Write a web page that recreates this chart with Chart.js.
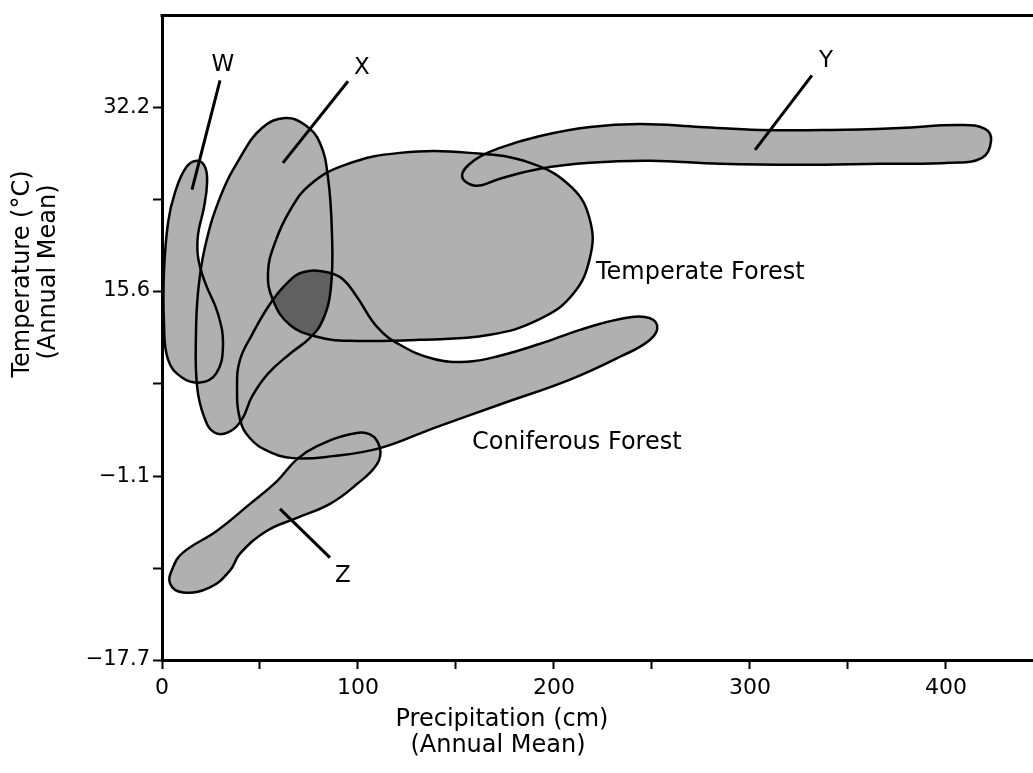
<!DOCTYPE html>
<html><head><meta charset="utf-8">
<script src="https://cdn.jsdelivr.net/npm/chart.js@4.4.1/dist/chart.umd.min.js"></script>
<style>html,body{margin:0;padding:0;background:#fff;overflow:hidden}canvas{display:block}</style>
</head><body>
<canvas id="c" width="1033" height="773"></canvas>
<script>
// ---------------- data ----------------
const xTicks = [0, 50, 100, 150, 200, 250, 300, 350, 400];
const xTickLabels = ['0', '', '100', '', '200', '', '300', '', '400'];
const yTicks = [-17.7, -9.4, -1.1, 7.25, 15.6, 23.9, 32.2];
const yTickLabels = ['\u221217.7', '', '\u22121.1', '', '15.6', '', '32.2'];

// outlines of the climate regions: [precipitation cm, temperature °C]
const biomeW = [[17.9,27.35],[21.9,26.82],[23.0,25.38],[21.4,23.14],[18.4,20.71],[18.4,18.65],[21.9,16.40],[28.6,13.53],[31.1,10.57],[27.6,8.15],[19.4,7.34],[10.2,7.79],[3.1,9.40],[1.0,12.81],[1.0,17.30],[3.1,21.79],[6.6,24.48],[12.2,26.73]];
const biomeX = [[62.8,31.21],[73.0,30.58],[80.6,28.97],[84.7,25.83],[86.7,20.89],[86.2,15.96],[82.1,13.0],[75.5,11.38],[65.3,9.94],[54.1,8.15],[45.9,6.08],[40.8,4.02],[33.7,2.85],[26.5,2.85],[21.4,4.29],[17.9,6.98],[17.3,11.47],[18.4,15.51],[21.9,19.55],[29.6,24.03],[39.8,27.62],[51.0,30.32]];
const temperateForest = [[121.4,28.07],[157.1,28.07],[187.8,27.17],[209.2,24.93],[218.4,21.97],[218.4,18.65],[209.7,15.33],[192.9,13.08],[167.3,11.65],[131.6,11.20],[95.9,11.11],[79.1,11.47],[65.3,12.54],[56.6,14.79],[54.1,17.30],[57.7,19.99],[65.3,22.87],[75.5,25.20],[93.4,26.99]];
const coniferousForest = [[71.9,17.30],[84.2,17.30],[92.3,16.67],[99.5,15.06],[109.7,12.37],[121.4,10.75],[138.3,9.49],[155.6,9.22],[172.4,9.76],[192.9,10.84],[213.3,12.10],[233.7,13.08],[246.4,13.26],[252.6,12.54],[249.0,11.20],[233.7,9.67],[208.2,7.61],[172.4,5.36],[138.3,3.21],[111.2,1.42],[87.2,0.70],[66.8,0.52],[54.1,1.15],[44.9,2.31],[39.8,4.02],[38.3,6.98],[39.8,9.40],[45.9,11.65],[55.1,14.43],[63.8,16.31]];
const biomeY = [[153.1,26.01],[159.7,27.44],[172.4,28.52],[192.9,29.60],[218.4,30.41],[243.9,30.67],[274.5,30.41],[305.1,30.14],[340.8,30.14],[376.5,30.32],[407.1,30.58],[419.9,30.23],[423.0,29.15],[418.4,27.62],[402.0,27.17],[366.3,27.08],[325.5,26.99],[284.7,27.08],[249.0,27.35],[218.4,27.17],[192.9,26.64],[172.4,25.74],[159.7,25.11]];
const biomeZ = [[5.6,-9.35],[10.7,-8.01],[28.1,-6.03],[44.9,-3.61],[58.7,-1.55],[68.9,0.43],[79.1,1.60],[95.9,2.67],[106.1,2.67],[111.2,1.42],[109.7,-0.02],[99.5,-1.82],[85.7,-3.61],[68.9,-4.87],[53.6,-6.03],[39.8,-8.10],[34.7,-9.62],[24.5,-11.15],[10.7,-11.60],[4.1,-10.79]];

// the darker area is where these three regions overlap
const overlapOf = ['X', 'Temperate Forest', 'Coniferous Forest'];

// leader lines and their letters
const markerNames = ['W', 'X', 'Y', 'Z'];
const leaderW = [[29.6,34.62],[15.3,24.75]];
const leaderX = [[94.9,34.53],[61.7,27.17]];
const leaderY = [[331.6,35.07],[302.6,28.34]];
const leaderZ = [[60.2,-4.06],[85.7,-8.46]];
const markerAnchors = [[31.1,35.97],[102.0,35.7],[338.8,36.33],[92.3,-10.16]];

const regionNames = ['Temperate Forest', 'Coniferous Forest'];
const regionAnchors = [[221.4,17.21],[158.2,1.87]];

const xTitle = ['Precipitation (cm)', '(Annual Mean)'];
const yTitle = ['Temperature (\u00B0C)', '(Annual Mean)'];

// ---------------- chart ----------------
const FILL = '#b0b0b0';
const DARK = '#606060';
const FONT = "'DejaVu Sans', sans-serif";
Chart.defaults.font.family = FONT;
Chart.defaults.color = '#000';

const toXY = arr => arr.map(([x, y]) => ({x, y}));
const shapes = [
  ['W', biomeW], ['X', biomeX], ['Temperate Forest', temperateForest],
  ['Coniferous Forest', coniferousForest], ['Y', biomeY], ['Z', biomeZ]
];
const leaders = [leaderW, leaderX, leaderY, leaderZ];

const datasets = [];
shapes.forEach(([name, pts]) => datasets.push({
  label: name, data: toXY(pts), closed: true, fill: 'shape',
  backgroundColor: FILL, borderColor: '#000', borderWidth: 2.5,
  pointRadius: 0, tension: 0.42
}));
leaders.forEach((pts, i) => datasets.push({
  label: 'leader ' + markerNames[i], data: toXY(pts), fill: false,
  borderColor: '#000', borderWidth: 3, pointRadius: 0, tension: 0
}));

const deco = {
  id: 'deco',
  afterDatasetsUpdate(chart) {
    chart.data.datasets.forEach((ds, i) => {
      if (!ds.closed) return;
      const line = chart.getDatasetMeta(i).dataset;
      if (!line) return;
      line._loop = true; line._fullLoop = true;
      delete line._segments; delete line._path; line._pointsUpdated = false;
    });
  },
  beforeDatasetsDraw(chart) {
    const ctx = chart.ctx, a = chart.chartArea;
    ctx.save();
    overlapOf.forEach(name => {
      const i = chart.data.datasets.findIndex(d => d.label === name);
      const line = chart.getDatasetMeta(i).dataset;
      line.updateControlPoints(a, 'x');
      ctx.beginPath(); line.path(ctx); ctx.closePath(); ctx.clip();
    });
    ctx.fillStyle = DARK;
    ctx.fillRect(a.left, a.top, a.width, a.height);
    ctx.restore();
  },
  afterDraw(chart) {
    const ctx = chart.ctx, a = chart.chartArea;
    const xs = chart.scales.x, ys = chart.scales.y;
    ctx.save();
    // top frame
    ctx.strokeStyle = '#000'; ctx.lineWidth = 3;
    ctx.beginPath(); ctx.moveTo(a.left - 1.5, a.top); ctx.lineTo(a.right + 2, a.top); ctx.stroke();
    ctx.fillStyle = '#000';
    // letters
    ctx.font = '23px ' + FONT; ctx.textAlign = 'center'; ctx.textBaseline = 'middle';
    markerNames.forEach((t, i) => ctx.fillText(t, xs.getPixelForValue(markerAnchors[i][0]), ys.getPixelForValue(markerAnchors[i][1])));
    // region names
    ctx.font = '24px ' + FONT;
    ctx.textAlign = 'left';
    regionNames.forEach((t, i) => ctx.fillText(t, xs.getPixelForValue(regionAnchors[i][0]), ys.getPixelForValue(regionAnchors[i][1])));
    // axis titles
    ctx.textAlign = 'center';
    ctx.fillText(xTitle[0], 502, 720);
    ctx.fillText(xTitle[1], 498, 746);
    ctx.save(); ctx.translate(23, 274); ctx.rotate(-Math.PI / 2); ctx.fillText(yTitle[0], 0, 0); ctx.restore();
    ctx.save(); ctx.translate(49, 272); ctx.rotate(-Math.PI / 2); ctx.fillText(yTitle[1], 0, 0); ctx.restore();
    ctx.restore();
  }
};

new Chart(document.getElementById('c'), {
  type: 'line',
  data: { datasets },
  options: {
    responsive: false, animation: false, events: [],
    layout: { padding: { top: 12, right: 0, left: 0, bottom: 0 } },
    plugins: { legend: { display: false }, tooltip: { enabled: false }, filler: { drawTime: 'beforeDatasetsDraw' } },
    scales: {
      x: {
        type: 'linear', min: 0, max: 444.4,
        afterBuildTicks: s => { s.ticks = xTicks.map(v => ({value: v})); },
        afterFit: s => { s.height = 113; },
        ticks: { autoSkip: false, maxRotation: 0, padding: 6, font: { size: 22 }, color: '#000',
                 callback: (v, i) => xTickLabels[i] },
        grid: { drawOnChartArea: false, drawTicks: true, tickLength: 9, tickColor: '#000', tickWidth: 2 },
        border: { display: true, color: '#000', width: 3 }
      },
      y: {
        type: 'linear', min: -17.7, max: 40.46,
        afterBuildTicks: s => { s.ticks = yTicks.map(v => ({value: v})); },
        afterFit: s => { s.width = 162; },
        ticks: { autoSkip: false, padding: 3, font: { size: 21 }, color: '#000',
                 callback: (v, i) => yTickLabels[i] },
        grid: { drawOnChartArea: false, drawTicks: true, tickLength: 9, tickColor: '#000', tickWidth: 2 },
        border: { display: true, color: '#000', width: 3 }
      }
    }
  },
  plugins: [deco]
});
</script>
</body></html>
